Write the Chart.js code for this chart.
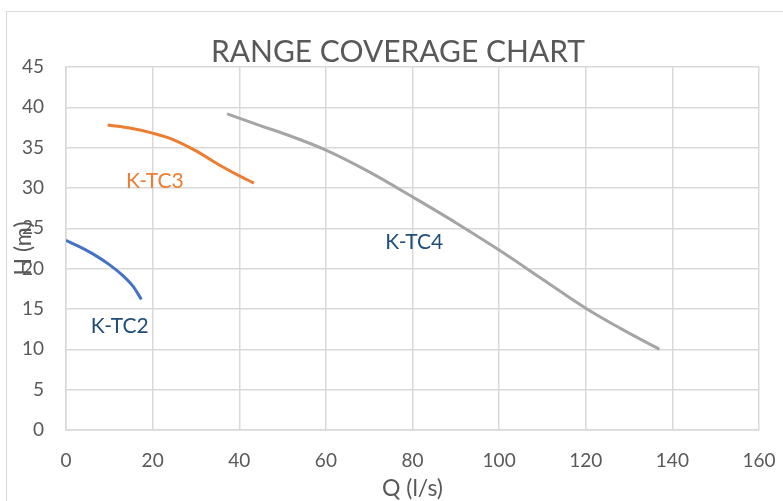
<!DOCTYPE html>
<html>
<head>
<meta charset="utf-8">
<script src="https://cdn.jsdelivr.net/npm/chart.js@4/dist/chart.umd.min.js"></script>
<style>
  html, body { margin: 0; padding: 0; background: #fff; overflow: hidden; }
  #frame { position: absolute; left: 6px; top: 11px; width: 900px; height: 600px; border: 1px solid #d9d9d9; }
  #wrap { position: absolute; left: 0; top: 0; width: 783px; height: 501px; }
</style>
</head>
<body>
<div id="frame"></div>
<div id="wrap"><canvas id="chart"></canvas></div>
<script>
// pump curves
const tc2Q = [0, 3.2, 6.3, 10, 13.2, 15.5, 17.4];
const tc2H = [23.5, 22.7, 21.8, 20.5, 19.1, 17.8, 16.2];

const tc3Q = [9.6, 15, 20, 24.3, 29.7, 35.9, 39.7, 43.4];
const tc3H = [37.8, 37.4, 36.8, 36.1, 34.7, 32.7, 31.6, 30.6];

const tc4Q = [37.2, 45, 51, 60, 70, 80, 90, 100, 110, 120, 128, 137];
const tc4H = [39.2, 37.7, 36.6, 34.7, 32.0, 28.9, 25.7, 22.3, 18.7, 15.1, 12.6, 10.0];

const curveNames = ['K-TC2', 'K-TC3', 'K-TC4'];
const curveColors = ['#4472C4', '#ED7D31', '#A5A5A5'];
const labelColors = ['#1F4E79', '#ED7D31', '#1F4E79'];
// where each curve name sits, in chart units
const labelQ = [12.4, 20.5, 80.4];
const labelH = [12.9, 30.9, 23.3];

const xTicks = [0, 20, 40, 60, 80, 100, 120, 140, 160];
const yTicks = [0, 5, 10, 15, 20, 25, 30, 35, 40, 45];

const FONT = 'Lato, "Open Sans", sans-serif';
const TEXT = '#595959';

function pts(qs, hs) {
  return qs.map((q, i) => ({ x: q, y: hs[i] }));
}

const series = [pts(tc2Q, tc2H), pts(tc3Q, tc3H), pts(tc4Q, tc4H)];

const textPlugin = {
  id: 'texts',
  afterDraw(chart) {
    const ctx = chart.ctx;
    const area = chart.chartArea;
    const xs = chart.scales.x, ys = chart.scales.y;
    ctx.save();
    ctx.textAlign = 'center';
    ctx.textBaseline = 'middle';

    ctx.fillStyle = TEXT;
    ctx.font = '30px ' + FONT;
    ctx.fillText('RANGE COVERAGE CHART', 398, 52);

    ctx.font = '23px ' + FONT;
    ctx.fillText('Q (l/s)', (area.left + area.right) / 2, 489);

    ctx.save();
    ctx.translate(24, (area.top + area.bottom) / 2);
    ctx.rotate(-Math.PI / 2);
    ctx.fillText('H (m)', 0, 0);
    ctx.restore();

    ctx.font = '21px ' + FONT;
    curveNames.forEach((name, i) => {
      ctx.fillStyle = labelColors[i];
      ctx.fillText(name, xs.getPixelForValue(labelQ[i]), ys.getPixelForValue(labelH[i]));
    });
    ctx.restore();
  }
};

new Chart(document.getElementById('chart'), {
  type: 'scatter',
  data: {
    datasets: series.map((data, i) => ({
      label: curveNames[i],
      data: data,
      showLine: true,
      borderColor: curveColors[i],
      backgroundColor: curveColors[i],
      borderWidth: 3,
      pointRadius: 0,
      cubicInterpolationMode: 'monotone'
    }))
  },
  options: {
    responsive: true,
    maintainAspectRatio: false,
    animation: false,
    layout: { padding: { top: 67, right: 24, left: 0, bottom: 0 } },
    plugins: {
      legend: { display: false },
      tooltip: { enabled: false }
    },
    scales: {
      x: {
        type: 'linear',
        min: 0,
        max: 160,
        afterBuildTicks: s => { s.ticks = xTicks.map(v => ({ value: v })); },
        afterFit: s => { s.height = 71; s.paddingLeft = 0; s.paddingRight = 0; },
        grid: { color: '#d9d9d9', lineWidth: 1.5, drawTicks: false },
        border: { color: '#d9d9d9', width: 1.5 },
        ticks: { color: TEXT, font: { family: FONT, size: 19 }, padding: 19 }
      },
      y: {
        type: 'linear',
        min: 0,
        max: 45,
        afterBuildTicks: s => { s.ticks = yTicks.map(v => ({ value: v })); },
        afterFit: s => { s.width = 66; s.paddingTop = 0; s.paddingBottom = 0; },
        grid: { color: '#d9d9d9', lineWidth: 1.5, drawTicks: false },
        border: { color: '#d9d9d9', width: 1.5 },
        ticks: { color: TEXT, font: { family: FONT, size: 19 }, padding: 22 }
      }
    }
  },
  plugins: [textPlugin]
});
</script>
</body>
</html>
